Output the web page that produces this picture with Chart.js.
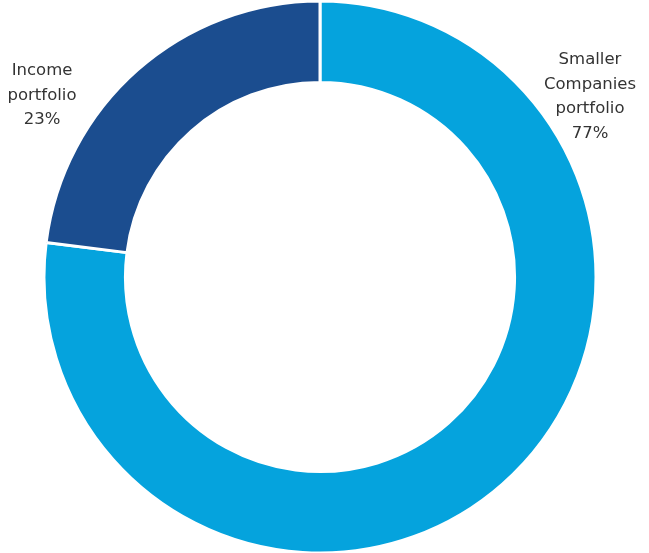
<!DOCTYPE html>
<html>
<head>
<meta charset="utf-8">
<script src="https://cdn.jsdelivr.net/npm/chart.js@4"></script>
<style>
  html, body { margin: 0; padding: 0; background: #fff; }
  #wrap { width: 649px; height: 553px; }
</style>
</head>
<body>
<div id="wrap"><canvas id="donut" width="649" height="553"></canvas></div>
<script>
// portfolio split
const categories = ['Smaller Companies portfolio', 'Income portfolio'];
const shares = [77, 23];
const labelLines = [
  ['Smaller', 'Companies', 'portfolio', '77%'],
  ['Income', 'portfolio', '23%']
];
const colors = ['#05a3dd', '#1b4d8f'];

// where the outside labels sit (centre x, first line y)
const labelSpots = [
  { x: 590, y: 60 },
  { x: 42, y: 71 }
];

const outsideLabels = {
  id: 'outsideLabels',
  afterDraw(chart) {
    const ctx = chart.ctx;
    ctx.save();
    ctx.font = '16.5px "DejaVu Sans", sans-serif';
    ctx.fillStyle = '#333333';
    ctx.textAlign = 'center';
    ctx.textBaseline = 'middle';
    labelLines.forEach((lines, i) => {
      lines.forEach((t, j) => {
        ctx.fillText(t, labelSpots[i].x, labelSpots[i].y + j * 24.5);
      });
    });
    ctx.restore();
  }
};

new Chart(document.getElementById('donut').getContext('2d'), {
  type: 'doughnut',
  data: {
    labels: categories,
    datasets: [{
      data: shares,
      backgroundColor: colors,
      borderColor: '#ffffff',
      borderWidth: 3
    }]
  },
  options: {
    responsive: false,
    animation: false,
    radius: 276,
    cutout: 193.5,
    layout: { padding: { left: 0, right: 9, top: 1, bottom: 0 } },
    plugins: {
      legend: { display: false },
      tooltip: { enabled: false }
    }
  },
  plugins: [outsideLabels]
});
</script>
</body>
</html>
